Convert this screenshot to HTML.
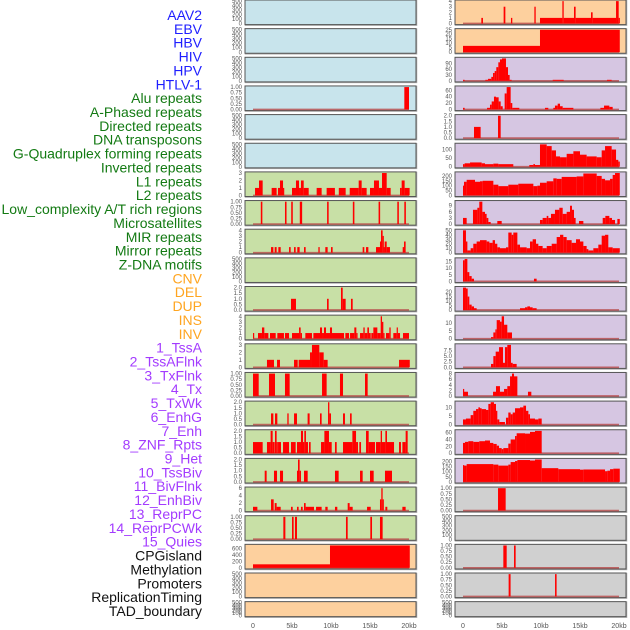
<!DOCTYPE html>
<html><head><meta charset="utf-8">
<style>
html,body{margin:0;padding:0;background:#fff;}
svg{display:block;}
</style></head>
<body>
<svg id="chart" width="630" height="630" xmlns="http://www.w3.org/2000/svg" font-family="Liberation Sans, sans-serif"></svg>
<script>
const trackLabels = ["AAV2","EBV","HBV","HIV","HPV","HTLV-1","Alu repeats","A-Phased repeats","Directed repeats","DNA transposons","G-Quadruplex forming repeats","Inverted repeats","L1 repeats","L2 repeats","Low_complexity A/T rich regions","Microsatellites","MIR repeats","Mirror repeats","Z-DNA motifs","CNV","DEL","DUP","INS","INV","1_TssA","2_TssAFlnk","3_TxFlnk","4_Tx","5_TxWk","6_EnhG","7_Enh","8_ZNF_Rpts","9_Het","10_TssBiv","11_BivFlnk","12_EnhBiv","13_ReprPC","14_ReprPCWk","15_Quies","CPGisland","Methylation","Promoters","ReplicationTiming","TAD_boundary"];
const labelColors = ["#1e1eff","#1e1eff","#1e1eff","#1e1eff","#1e1eff","#1e1eff","#137a13","#137a13","#137a13","#137a13","#137a13","#137a13","#137a13","#137a13","#137a13","#137a13","#137a13","#137a13","#137a13","#ffa520","#ffa520","#ffa520","#ffa520","#ffa520","#a33bff","#a33bff","#a33bff","#a33bff","#a33bff","#a33bff","#a33bff","#a33bff","#a33bff","#a33bff","#a33bff","#a33bff","#a33bff","#a33bff","#a33bff","#111","#111","#111","#111","#111"];
const panelBg = ["#c8e4ec","#c8e4ec","#c8e4ec","#c8e4ec","#c8e4ec","#c8e4ec","#c8e0a6","#c8e0a6","#c8e0a6","#c8e0a6","#c8e0a6","#c8e0a6","#c8e0a6","#c8e0a6","#c8e0a6","#c8e0a6","#c8e0a6","#c8e0a6","#c8e0a6","#fdd09e","#fdd09e","#fdd09e","#fdd09e","#fdd09e","#d6c6e2","#d6c6e2","#d6c6e2","#d6c6e2","#d6c6e2","#d6c6e2","#d6c6e2","#d6c6e2","#d6c6e2","#d6c6e2","#d6c6e2","#d6c6e2","#d6c6e2","#d6c6e2","#d6c6e2","#d0d0d0","#d0d0d0","#d0d0d0","#d0d0d0","#d0d0d0"];
const EMPTY = ["0","100","200","300","400","500"];
const panelTicks = [EMPTY,EMPTY,EMPTY,["0.00","0.25","0.50","0.75","1.00"],EMPTY,EMPTY,
["0","1","2","3"],["0.00","0.25","0.50","0.75","1.00"],["0","1","2","3","4"],EMPTY,["0.0","0.5","1.0","1.5","2.0"],["0","1","2","3","4"],["0","1","2","3"],["0.00","0.25","0.50","0.75","1.00"],["0.0","0.5","1.0","1.5","2.0"],["0.0","0.5","1.0","1.5","2.0"],["0.0","0.5","1.0","1.5","2.0"],["0","2","4","6"],["0.00","0.25","0.50","0.75","1.00"],
["0","200","400","600"],EMPTY,EMPTY,
["0","1","2","3","4"],["0","5","10","15","20","25"],["0","30","60","90"],["0","20","40","60"],["0.0","0.5","1.0","1.5","2.0"],["0","50","100"],["0","50","100","150","200"],["0","3","6","9"],["0","10","20","30","40","50"],["0","5","10","15"],["0","5","10","15","20"],["0","5","10"],["0.0","2.5","5.0","7.5"],["0","2","4","6","8"],["0","5","10"],["0","20","40","60"],["0","50","100","150","200"],
["0.00","0.25","0.50","0.75","1.00"],EMPTY,["0.00","0.25","0.50","0.75","1.00"],["0.00","0.25","0.50","0.75","1.00"],EMPTY];
// segments: [startKb, endKb, value]
const panelSegs = [
[],[],[],[[19.4,20.0,1]],[],[],
[[0.26,0.77,1],[0.77,1.24,2],[2.39,3.03,1],[3.2,3.46,1],[3.46,3.85,2],[3.85,3.97,1],[5.0,5.51,1],[5.51,5.9,2],[5.9,6.15,1],[6.15,6.5,2],[6.5,7.14,1],[8.16,8.8,1],[9.44,10.5,1],[11.0,11.88,1],[12.4,13.55,1],[13.55,13.93,2],[13.93,14.57,1],[15.0,15.51,1],[15.51,16.15,2],[16.15,16.54,1],[16.54,17.14,3],[17.14,17.65,1],[18.85,19.06,1],[19.06,19.44,2],[19.44,20.08,1]],
[[1.0,1.2,1],[4.1,4.3,1],[4.9,5.1,1],[6.0,6.3,1],[9.5,9.7,1],[12.8,13.0,1],[16.1,16.3,1],[18.5,18.7,1],[19.4,19.6,1]],
[[2.31,2.61,1],[2.78,3.03,1],[3.25,3.55,1],[4.62,4.83,1],[5.26,5.47,1],[5.68,5.98,1],[6.54,6.75,1],[8.38,8.55,1],[9.27,9.57,1],[10.0,10.21,1],[14.06,14.27,1],[14.49,14.79,1],[15.77,16.28,1],[16.28,16.41,2],[16.41,16.62,4],[16.62,16.75,3],[16.75,16.88,1],[16.88,17.14,2],[17.14,17.56,1],[19.19,19.36,1],[19.36,19.57,2]],
[],
[[4.87,5.51,1],[9.49,9.7,1],[11.28,11.5,2],[11.5,11.88,1],[12.56,12.78,1]],
[[0,0.09,1],[0.64,1.15,1],[1.15,1.45,2],[1.45,1.97,1],[2.18,2.91,1],[3.12,3.97,1],[4.1,4.62,1],[5.0,5.9,1],[5.9,6.11,2],[6.11,6.28,1],[6.71,7.56,1],[7.74,8.59,1],[8.59,8.85,2],[8.85,9.1,1],[9.1,9.36,2],[9.36,9.87,1],[9.87,10.13,2],[10.13,11.67,1],[11.84,12.31,1],[12.44,12.99,1],[12.99,13.25,2],[13.25,13.38,1],[13.72,14.15,1],[14.15,14.32,2],[14.32,14.66,1],[14.66,14.87,2],[14.87,15.09,1],[15.17,15.43,1],[15.43,15.94,2],[15.94,16.37,1],[16.37,16.54,4],[16.54,16.71,3],[16.71,16.84,1],[17.05,17.48,1],[17.48,17.65,2],[17.99,18.42,1],[18.42,18.55,2],[18.55,18.85,1],[19.23,20.0,1]],
[[1.79,2.69,1],[3.08,3.46,1],[5.26,5.73,1],[5.85,7.31,1],[7.31,7.56,2],[7.56,8.5,3],[8.5,9.06,2],[9.06,9.57,1],[18.72,20.1,1]],
[[0,0.73,1],[2.05,2.82,1],[4.1,4.7,1],[8.85,9.44,1],[11.15,11.54,1],[14.36,14.7,1]],
[[2.31,2.61,1],[2.82,3.12,1],[4.4,4.57,1],[5.26,5.64,1],[7.0,7.26,1],[8.59,8.8,1],[9.62,9.79,2],[9.79,10.0,1],[11.54,11.79,1],[12.44,12.65,1]],
[[0,1.24,1],[1.79,2.26,1],[2.26,2.52,2],[2.52,2.78,1],[2.82,3.03,2],[3.03,3.16,1],[3.21,3.59,1],[3.85,4.62,1],[4.87,5.47,1],[5.64,6.15,1],[6.15,6.41,2],[6.41,6.58,1],[6.58,6.79,2],[6.79,7.05,1],[7.18,7.39,1],[8.72,9.15,1],[9.15,9.74,2],[9.74,10.09,1],[10.51,10.73,1],[11.54,12.74,1],[12.74,13.21,2],[13.21,13.46,1],[13.63,13.85,1],[14.49,14.83,2],[14.83,15.64,1],[15.77,16.37,1],[16.37,16.54,2],[16.54,16.97,1],[16.97,17.18,2],[17.18,18.08,1],[18.72,18.97,1],[19.15,19.57,1],[19.57,19.83,2]],
[[1.5,1.75,1],[2.69,3.08,1],[3.46,3.85,1],[5.64,5.77,1],[5.77,5.98,2],[5.98,6.15,1],[6.54,7.01,1],[10.51,10.98,1],[13.72,14.06,1],[15.0,15.47,1],[16.92,17.82,1]],
[[0,0.56,1],[2.31,2.65,3],[2.78,3.03,2],[3.03,3.55,1],[4.87,5.09,1],[5.64,5.85,1],[6.15,6.37,1],[6.54,6.75,2],[6.75,7.82,1],[8.08,8.8,1],[9.27,9.57,1],[10.51,10.81,1],[12.14,12.39,2],[12.39,12.78,1],[14.62,15.09,1],[16.28,16.45,3],[16.45,16.62,6],[16.62,16.75,3],[16.97,17.22,1],[19.15,19.57,1]],
[[3.89,4.15,1],[5.0,5.21,1],[5.38,5.64,1],[11.92,12.14,1],[15.04,15.26,1],[16.28,16.62,1]],
[[0,9.87,110],[9.87,20.1,700]],
[],[],
[[2.35,2.56,1],[5.21,5.43,3],[6.15,6.32,1],[9.15,9.32,3],[9.87,12.74,1],[12.74,12.91,4],[12.91,14.23,1],[14.23,14.44,3],[14.44,16.41,1],[16.41,16.62,2],[16.62,19.62,1],[19.62,19.96,4],[19.96,20.1,1]],
[[0,9.87,7],[9.87,20.1,25]],
[[0,0.21,5],[2.86,3.21,5],[3.21,3.63,10],[3.63,3.85,20],[3.85,4.06,40],[4.06,4.27,50],[4.27,4.53,70],[4.53,4.74,95],[4.74,5.0,110],[5.0,5.51,115],[5.51,5.77,70],[5.77,5.98,30],[5.98,6.24,5],[11.5,12.91,5],[18.46,19.06,5]],
[[0,0.21,5],[3.08,3.46,5],[3.46,3.68,15],[3.68,3.97,25],[3.97,4.23,40],[4.23,4.57,38],[4.57,4.83,25],[4.83,5.09,10],[5.34,5.6,50],[5.6,6.11,70],[6.11,6.32,20],[6.32,7.22,5],[10.51,10.94,5],[11.58,11.79,5],[11.79,12.14,12],[12.14,12.44,18],[12.44,12.78,10],[12.78,14.15,5],[17.61,18.08,5],[18.08,18.76,12],[18.76,19.19,8]],
[[1.41,2.26,1],[4.49,4.83,2]],
[[0,0.21,15],[0.21,0.9,20],[0.9,2.39,25],[2.39,2.82,20],[2.82,3.89,15],[3.89,4.53,18],[4.53,6.45,15],[8.5,9.02,10],[9.02,9.23,15],[9.23,9.87,10],[9.87,10.73,130],[10.73,11.37,120],[11.37,11.92,95],[11.92,12.44,60],[12.44,13.29,55],[13.29,14.15,75],[14.15,15.0,90],[15.0,15.85,70],[15.85,17.14,60],[17.14,17.78,55],[17.78,18.21,95],[18.21,19.06,120],[19.06,19.62,100],[19.62,19.91,40],[19.91,20.1,30]],
[[0,0.13,100],[0.13,0.47,140],[0.47,1.54,160],[1.54,2.18,140],[2.18,2.52,145],[2.52,3.89,150],[3.89,4.53,110],[4.53,5.81,95],[5.81,7.09,110],[7.09,9.02,120],[9.02,9.53,95],[9.53,9.87,100],[9.87,10.73,130],[10.73,11.58,145],[11.58,12.01,175],[12.01,12.65,170],[12.65,14.57,190],[14.57,15.43,195],[15.43,17.14,225],[17.14,17.78,200],[17.78,18.21,170],[18.21,18.85,155],[18.85,19.19,170],[19.19,19.49,210],[19.49,20.1,230]],
[[0,0.47,3],[1.28,1.84,7],[1.84,2.09,8],[2.09,2.48,11],[2.48,2.82,6],[2.82,3.03,5],[3.03,3.25,3],[3.25,3.55,1],[4.4,4.96,1.5],[9.87,10.21,2],[10.21,10.73,3],[10.73,10.94,4],[10.94,11.28,3],[11.28,11.79,5],[11.79,12.35,7],[12.35,12.78,8],[12.78,13.29,5],[13.29,13.72,6],[13.72,13.97,9],[13.97,14.23,7],[14.23,14.44,3],[14.87,15.43,1.5],[17.91,18.25,3],[18.25,18.76,4],[18.76,19.1,3],[19.1,19.49,2],[19.79,20.1,2.5]],
[[0,0.38,50],[0.38,0.56,25],[0.56,0.98,5],[0.98,1.32,10],[1.32,1.75,20],[1.75,2.18,25],[2.18,3.03,28],[3.03,3.38,25],[3.38,3.8,22],[3.8,4.1,28],[4.1,4.4,20],[4.4,4.74,12],[4.74,5.51,10],[5.51,5.81,12],[5.81,6.24,45],[6.24,6.45,40],[6.45,6.97,45],[6.97,7.31,18],[7.31,8.16,12],[8.16,8.59,10],[8.59,8.93,25],[8.93,9.36,30],[9.36,9.66,20],[9.66,10.21,15],[10.21,10.73,10],[10.73,11.37,15],[11.37,12.01,20],[12.01,12.44,35],[12.44,12.86,40],[12.86,13.29,35],[13.29,13.93,28],[13.93,14.49,22],[14.49,15.0,30],[15.0,15.43,25],[15.43,15.85,15],[15.85,16.07,8],[16.07,16.71,5],[16.71,17.35,10],[17.35,17.78,18],[17.78,18.21,38],[18.21,18.63,40],[18.63,19.19,12],[19.19,20.1,10]],
[[0,0.21,16],[0.21,0.56,17],[0.56,0.81,7],[0.81,1.11,4],[1.11,1.41,2],[9.1,9.44,2]],
[[0,0.38,25],[0.38,0.6,24],[0.6,0.81,15],[0.81,1.11,6],[1.11,1.41,4],[1.41,1.75,2],[7.31,7.95,2],[7.95,8.25,3],[8.25,8.59,4],[8.59,8.93,3],[8.93,9.44,2]],
[[3.59,3.89,1],[3.89,4.15,4],[4.15,4.32,6],[4.32,4.74,12],[4.74,4.96,11],[4.96,5.26,14.5],[5.26,5.68,9],[5.68,6.28,4]],
[[3.59,3.89,1.5],[3.89,4.19,5],[4.19,4.62,7],[4.62,5.13,9],[5.13,5.38,2],[5.38,5.68,9],[5.68,6.15,10],[6.15,6.37,2],[6.37,6.88,1.5]],
[[0,0.09,2.5],[0.09,0.64,1.5],[3.85,4.23,1.5],[4.23,4.74,3.5],[4.74,5.26,1.5],[5.26,5.68,2.5],[5.68,6.03,3.5],[6.03,6.28,7],[6.28,6.54,8],[6.54,6.97,7],[8.33,8.76,1.5]],
[[0,0.38,3],[0.38,0.98,3.5],[0.98,1.32,5.5],[1.32,1.67,8],[1.67,1.97,9],[1.97,2.18,10],[2.18,2.39,9.5],[2.39,2.95,9],[2.95,3.25,8.5],[3.25,3.55,12],[3.55,3.97,13],[3.97,4.23,12],[4.23,4.4,8],[4.4,4.66,3],[4.66,5.38,1.5],[5.51,5.81,4],[5.81,6.11,7],[6.11,6.37,6],[6.37,6.67,7],[6.67,7.31,9.5],[7.31,7.74,10],[7.74,8.08,11],[8.08,8.38,8],[8.38,8.59,6],[8.59,9.23,3.5],[9.23,9.66,3],[9.66,10.09,3.5]],
[[0,0.26,30],[0.26,0.68,33],[0.68,1.32,35],[1.32,2.09,33],[2.09,2.82,35],[2.82,3.46,37],[3.46,3.89,30],[3.89,4.32,27],[4.32,4.62,22],[4.62,4.96,15],[4.96,5.17,12],[5.17,5.81,15],[5.81,6.11,28],[6.11,6.67,40],[6.67,6.88,50],[6.88,7.95,58],[7.95,8.59,57],[8.59,9.23,62],[9.23,10.09,65]],
[[0,0.13,165],[0.13,0.47,160],[0.47,3.89,175],[3.89,4.53,170],[4.53,5.81,160],[5.81,6.11,170],[6.11,6.67,195],[6.67,6.97,205],[6.97,8.59,215],[8.59,9.23,210],[9.23,10.09,220],[10.09,12.22,135],[12.22,15.0,125],[15.0,15.43,120],[15.43,18.21,122],[18.21,18.5,105],[18.5,18.85,110],[18.85,19.27,125],[19.27,20.1,130]],
[[4.49,5.47,1]],[],[[5.17,5.6,1],[6.54,6.75,1]],[[5.85,6.1,1],[11.8,12.0,1]],[]
];
const xTickVals = [0,5,10,15,20];
const xTickLabels = ["0","5kb","10kb","15kb","20kb"];

const NS="http://www.w3.org/2000/svg";
const svg=document.getElementById('chart');
function mk(tag,attrs,parent){const e=document.createElementNS(NS,tag);for(const k in attrs)e.setAttribute(k,attrs[k]);(parent||svg).appendChild(e);return e;}

// labels
trackLabels.forEach((t,i)=>{
  const e=mk('text',{x:202,y:15+i*13.86+5,'text-anchor':'end','font-size':14,fill:labelColors[i]});
  e.textContent=t;
  
  
});

const colX=[245,455], colW=171;
function xScale(col,kb){return colX[col]+8+kb*7.8;}
for(let p=0;p<44;p++){
  const col=p<22?0:1, row=p%22;
  const top=row*28.65, h=row===21?15:24.6;
  const g=mk('g',{});
  
  
  mk('rect',{x:colX[col]+0.5,y:top+0.5,width:colW,height:h,fill:'none',stroke:'#aaa','stroke-width':1.5},g);
  mk('rect',{x:colX[col],y:top,width:colW,height:h,fill:panelBg[p],stroke:'#555','stroke-width':1},g);
  const segs=panelSegs[p];
  const ticks=panelTicks[p];
  const tx=colX[col]-3;
  let yS;
  if(segs.length){
    const M=Math.max(...segs.map(s=>s[2]));
    yS=v=>top+h-(v+0.05*M)/(1.1*M)*h;
    mk('line',{x1:xScale(col,0),x2:xScale(col,20),y1:yS(0),y2:yS(0),stroke:'#b84a4a','stroke-width':1.6,opacity:0.8},g);
    segs.forEach(s=>{
      const x0=xScale(col,s[0]),x1=xScale(col,s[1]);
      const r=mk('rect',{x:x0,y:yS(s[2]),width:Math.max(1.2,x1-x0),height:yS(0)-yS(s[2]),fill:'#ff0000'},g);
      
      
    });
    ticks.forEach(t=>{
      const e=mk('text',{x:tx,y:yS(parseFloat(t))+2,'text-anchor':'end','font-size':6,fill:'#555'},g);
      e.textContent=t;
    });
  } else {
    ticks.forEach((t,k)=>{
      const e=mk('text',{x:tx,y:top+h-1-k*(h-2)/(ticks.length-1)+2,'text-anchor':'end','font-size':6,fill:'#555'},g);
      e.textContent=t;
    });
  }
}
// x axes
[0,1].forEach(col=>{
  xTickVals.forEach((v,i)=>{
    const e=mk('text',{x:xScale(col,v),y:628,'text-anchor':'middle','font-size':7,fill:'#555'});
    e.textContent=xTickLabels[i];
    
    
  });
});
</script>
</body></html>
